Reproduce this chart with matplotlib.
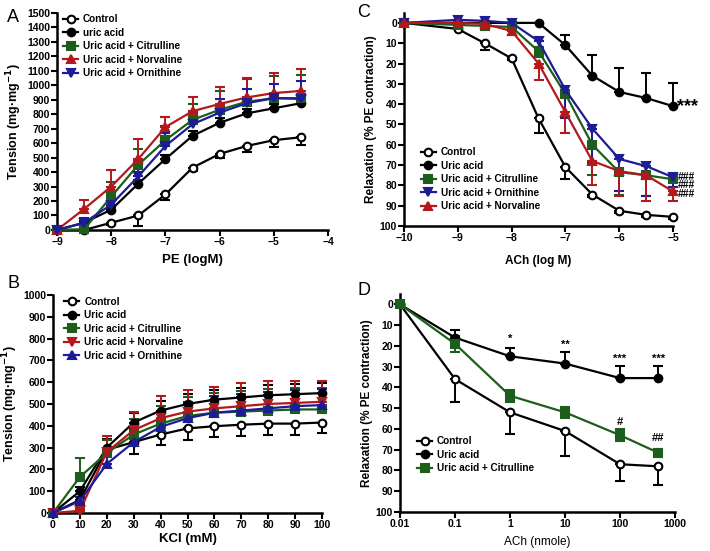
import numpy as np
import matplotlib
matplotlib.use('Agg')
import matplotlib.pyplot as plt

plt.rcParams['font.family'] = ['Liberation Sans', 'DejaVu Sans']
plt.rcParams['font.weight'] = 'bold'
plt.rcParams['axes.labelweight'] = 'bold'
plt.rcParams['mathtext.default'] = 'bf'
plt.rcParams['axes.linewidth'] = 1.8

GREEN = '#1d5e1d'
RED = '#b3191c'
BLUE = '#1c1c96'

# ---- Panel A: PE (logM) vs tension ----
a_x = [-9, -8.5, -8, -7.5, -7, -6.5, -6, -5.5, -5, -4.5]
a_control = [0, 0, 50, 100, 245, 430, 525, 580, 620, 640]
a_control_err = [0, 0, 15, 70, 40, 20, 30, 40, 45, 55]
a_uric = [0, 50, 140, 320, 490, 650, 740, 805, 840, 875]
a_uric_err = [0, 15, 20, 25, 30, 30, 30, 30, 30, 30]
a_citr = [0, 5, 230, 450, 620, 760, 830, 885, 910, 910]
a_citr_err = [0, 20, 100, 110, 100, 110, 130, 155, 150, 160]
a_norv = [0, 145, 300, 490, 710, 820, 870, 915, 945, 960]
a_norv_err = [0, 60, 115, 135, 70, 95, 115, 135, 140, 150]
a_orni = [0, 50, 175, 370, 580, 730, 810, 875, 910, 905]
a_orni_err = [0, 30, 60, 80, 90, 80, 95, 100, 100, 120]

# ---- Panel B: KCl (mM) vs tension ----
b_x = [0, 10, 20, 30, 40, 50, 60, 70, 80, 90, 100]
b_control = [0, 60, 290, 325, 360, 388, 398, 405, 410, 410, 415]
b_control_err = [0, 20, 30, 55, 50, 55, 50, 50, 50, 50, 50]
b_uric = [0, 100, 300, 415, 470, 500, 520, 530, 540, 545, 550]
b_uric_err = [0, 20, 40, 45, 45, 45, 45, 45, 45, 45, 45]
b_citr = [0, 165, 275, 360, 410, 445, 460, 465, 470, 475, 475]
b_citr_err = [0, 85, 60, 70, 80, 85, 90, 95, 100, 100, 100]
b_norv = [0, 10, 280, 380, 435, 465, 480, 490, 500, 505, 510]
b_norv_err = [0, 10, 75, 85, 100, 100, 100, 108, 105, 100, 95]
b_orni = [0, 55, 225, 325, 395, 435, 460, 470, 480, 490, 495]
b_orni_err = [0, 20, 50, 60, 70, 75, 75, 75, 75, 75, 75]

# ---- Panel C: ACh (log M) vs relaxation ----
c_x = [-10, -9, -8.5, -8, -7.5, -7, -6.5, -6, -5.5, -5]
c_control = [0, 3, 10, 17.5, 47, 71, 84.5, 92.5, 94.5, 95.5]
c_control_err = [0, 0, 3.5, 1, 7, 6, 1, 1, 1, 1]
c_uric = [0, 0, 0, 0, 0, 11, 26, 34, 37, 41]
c_uric_err = [0, 0, 0, 0, 0, 5, 10, 12, 12.5, 11.5]
c_citr = [0, 1, 1.5, 2, 14, 35, 60, 73.5, 75, 77]
c_citr_err = [0, 0, 1, 1, 3, 12, 15, 11, 10, 4]
c_orni = [0, -1.5, -1, 0, 9, 33, 52, 67, 70.5, 76]
c_orni_err = [0, 0, 0, 1, 3, 14, 17, 16, 14.5, 5]
c_norv = [0, 0, 0.5, 4, 20, 44, 68, 73, 75, 83]
c_norv_err = [0, 0, 1, 2, 8, 10, 12, 12, 12.5, 4.5]

# ---- Panel D: ACh (nmole) vs relaxation ----
d_x = [0.01, 0.1, 1, 10, 100, 500]
d_control = [0, 36, 52, 61, 77, 78]
d_control_err = [0, 11, 10.5, 12, 8, 9]
d_uric = [0, 16, 25, 28.5, 35.5, 35.5]
d_uric_err = [0, 3.5, 4, 5.5, 6, 6]
d_citr = [0, 19, 44, 52, 63, 71.5]
d_citr_err = [0, 4, 3, 2.5, 3, 2]

fig = plt.figure(figsize=(7.1, 5.51), dpi=100)
axA = fig.add_axes([0.0803, 0.5826, 0.3817, 0.3944])
axB = fig.add_axes([0.0746, 0.069, 0.379, 0.3956])
axC = fig.add_axes([0.569, 0.5898, 0.379, 0.3871])
axD = fig.add_axes([0.5634, 0.0708, 0.3873, 0.3956])


def series(ax, x, y, err, color, marker, face, label, direction):
    y = np.array(y, dtype=float)
    err = np.array(err, dtype=float)
    if direction > 0:
        yerr = [np.zeros_like(err), err]
    elif direction < 0:
        yerr = [err, np.zeros_like(err)]
    else:
        yerr = [err, err]
    c = ax.errorbar(x, y, yerr=yerr, color=color, marker=marker, mfc=face, mec=color,
                    ms=5.5, mew=1.5, lw=1.6, elinewidth=1.4, capsize=3.5, capthick=1.4,
                    label=label, clip_on=False, zorder=3)
    return c.lines[0]


def style(ax):
    for s in ['top', 'right']:
        ax.spines[s].set_visible(False)
    ax.tick_params(direction='out', length=4, width=1.5, labelsize=7.5, pad=1)
    for lab in ax.get_xticklabels() + ax.get_yticklabels():
        lab.set_fontweight('bold')


def legend(ax, handles, labels, **kw):
    ax.legend(handles, labels, frameon=False, fontsize=7.2, handlelength=1.5,
              handletextpad=0.5, labelspacing=0.35, borderaxespad=0.2, **kw)


# A
labels_a = ['Control', 'uric acid', 'Uric acid + Citrulline', 'Uric acid + Norvaline',
            'Uric acid + Ornithine']
h = [series(axA, a_x, a_control, a_control_err, 'black', 'o', 'white', labels_a[0], -1),
     series(axA, a_x, a_uric, a_uric_err, 'black', 'o', 'black', labels_a[1], 1),
     series(axA, a_x, a_citr, a_citr_err, GREEN, 's', GREEN, labels_a[2], 1),
     series(axA, a_x, a_norv, a_norv_err, RED, '^', RED, labels_a[3], 1),
     series(axA, a_x, a_orni, a_orni_err, BLUE, 'v', BLUE, labels_a[4], 1)]
axA.set_xlim(-9, -4)
axA.set_ylim(0, 1500)
axA.set_xticks([-9, -8, -7, -6, -5, -4])
axA.set_xticklabels(['\u22129', '\u22128', '\u22127', '\u22126', '\u22125', '\u22124'])
axA.set_yticks(np.arange(0, 1501, 100))
axA.set_xlabel('PE (logM)', fontsize=9.5, labelpad=5)
axA.set_ylabel('Tension (mg\u00b7mg$^{-1}$)', fontsize=9, labelpad=2)
legend(axA, h, labels_a, loc='upper left', bbox_to_anchor=(0.0, 1.02))
style(axA)

# B
labels_b = ['Control', 'Uric acid', 'Uric acid + Citrulline', 'Uric acid + Norvaline',
            'Uric acid + Ornithine']
h = [series(axB, b_x, b_control, b_control_err, 'black', 'o', 'white', labels_b[0], -1),
     series(axB, b_x, b_uric, b_uric_err, 'black', 'o', 'black', labels_b[1], 1),
     series(axB, b_x, b_citr, b_citr_err, GREEN, 's', GREEN, labels_b[2], 1),
     series(axB, b_x, b_norv, b_norv_err, RED, 'v', RED, labels_b[3], 1),
     series(axB, b_x, b_orni, b_orni_err, BLUE, '^', BLUE, labels_b[4], 1)]
axB.set_xlim(0, 100)
axB.set_ylim(0, 1000)
axB.set_xticks(np.arange(0, 101, 10))
axB.set_yticks(np.arange(0, 1001, 100))
axB.set_xlabel('KCl (mM)', fontsize=9.5, labelpad=2)
axB.set_ylabel('Tension (mg\u00b7mg$^{-1}$)', fontsize=9, labelpad=2)
legend(axB, h, labels_b, loc='upper left', bbox_to_anchor=(0.02, 1.02))
style(axB)

# C
labels_c = ['Control', 'Uric acid', 'Uric acid + Citrulline', 'Uric acid + Ornithine',
            'Uric acid + Norvaline']
h = [series(axC, c_x, c_control, c_control_err, 'black', 'o', 'white', labels_c[0], 1),
     series(axC, c_x, c_uric, c_uric_err, 'black', 'o', 'black', labels_c[1], -1),
     series(axC, c_x, c_citr, c_citr_err, GREEN, 's', GREEN, labels_c[2], 1),
     series(axC, c_x, c_orni, c_orni_err, BLUE, 'v', BLUE, labels_c[3], 1),
     series(axC, c_x, c_norv, c_norv_err, RED, '^', RED, labels_c[4], 1)]
axC.set_xlim(-10, -5)
axC.set_ylim(100, -5)
axC.set_xticks([-10, -9, -8, -7, -6, -5])
axC.set_xticklabels(['\u221210', '\u22129', '\u22128', '\u22127', '\u22126', '\u22125'])
axC.set_yticks(np.arange(0, 101, 10))
axC.set_xlabel('ACh (log M)', fontsize=8.5, labelpad=9)
axC.set_ylabel('Relaxation (% PE contraction)', fontsize=8.5, labelpad=2)
legend(axC, h, labels_c, loc='lower left', bbox_to_anchor=(0.04, 0.04))
axC.text(-4.92, c_uric[-1], '***', fontsize=13, va='center', ha='left', clip_on=False)
axC.text(-4.92, 80, '###\n###\n###', fontsize=7.5, va='center', ha='left',
         linespacing=0.78, clip_on=False)
style(axC)

# D
labels_d = ['Control', 'Uric acid', 'Uric acid + Citrulline']
h = [series(axD, d_x, d_control, d_control_err, 'black', 'o', 'white', labels_d[0], 1),
     series(axD, d_x, d_uric, d_uric_err, 'black', 'o', 'black', labels_d[1], -1),
     series(axD, d_x, d_citr, d_citr_err, GREEN, 's', GREEN, labels_d[2], 0)]
axD.set_xscale('log')
axD.set_xlim(0.01, 1000)
axD.set_ylim(100, -5)
axD.set_xticks([0.01, 0.1, 1, 10, 100, 1000])
axD.set_xticklabels(['0.01', '0.1', '1', '10', '100', '1000'])
axD.minorticks_off()
axD.set_yticks(np.arange(0, 101, 10))
axD.set_xlabel('ACh (nmole)', fontsize=8.5, fontweight='normal', labelpad=5)
axD.set_ylabel('Relaxation (% PE contraction)', fontsize=8.5, labelpad=2)
legend(axD, h, labels_d, loc='lower left', bbox_to_anchor=(0.04, 0.15))
for xx, yy, s in [(1, 19, '*'), (10, 22, '**'), (100, 28.5, '***'), (500, 28.5, '***'),
                  (100, 59, '#'), (500, 67, '##')]:
    axD.text(xx, yy, s, fontsize=8, ha='center', va='bottom')
style(axD)

for lab, x, y in [('A', 0.01, 0.96), ('B', 0.01, 0.478), ('C', 0.503, 0.97), ('D', 0.503, 0.465)]:
    fig.text(x, y, lab, fontsize=13, fontweight='normal')

fig.savefig('out.png', dpi=100)
